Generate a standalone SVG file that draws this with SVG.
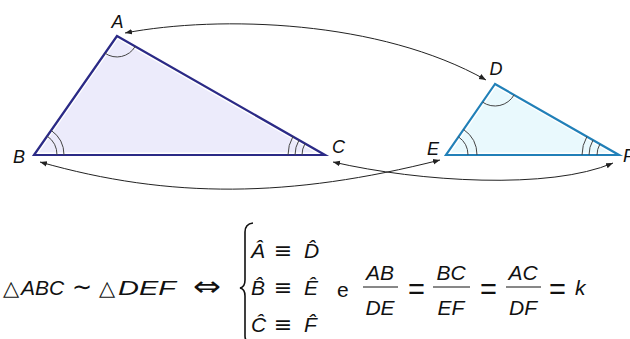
<svg xmlns="http://www.w3.org/2000/svg" width="630" height="339" viewBox="0 0 630 339">
<style>
text{font-family:"Liberation Sans","DejaVu Sans",sans-serif;fill:#111}
.lbl{font-size:18px;font-style:italic}
.i{font-size:21px;font-style:italic}
.u{font-size:21px}
.eq{font-size:29px}
.eqv{font-family:"DejaVu Sans",sans-serif;font-size:22px}
.sim{font-family:"DejaVu Sans",sans-serif;font-size:24px}
.c{text-anchor:middle}
.arc{fill:none;stroke:#444;stroke-width:1}
.conn{fill:none;stroke:#222;stroke-width:1;marker-start:url(#ah);marker-end:url(#ah)}
.bar{stroke:#111;stroke-width:1}
</style>
<defs>
<marker id="ah" viewBox="0 0 10 10" refX="10" refY="5" markerWidth="7" markerHeight="7" markerUnits="userSpaceOnUse" orient="auto-start-reverse">
<path d="M0,1 L10,5 L0,9 Z" fill="#222"/>
</marker>
</defs>
<g id="triangle-ABC">
<polygon points="117,36 34,155 325,155" fill="#ecebfb" stroke="#fff" stroke-width="5"/>
<polygon points="117,36 34,155 325,155" fill="none" stroke="#2b2a86" stroke-width="2.2"/>
<path class="arc" d="M105,53.2 A21,21 0 0 0 135.2,46.4"/>
<path class="arc" d="M47.2,136.1 A23,23 0 0 1 57,155"/>
<path class="arc" d="M51.2,130.4 A30,30 0 0 1 64,155"/>
<path class="arc" d="M302,155 A23,23 0 0 1 305,143.6"/>
<path class="arc" d="M295,155 A30,30 0 0 1 299,140.1"/>
<path class="arc" d="M288,155 A37,37 0 0 1 292.9,136.6"/>
<text class="lbl c" x="117.5" y="28">A</text>
<text class="lbl c" x="19" y="163">B</text>
<text class="lbl c" x="338.5" y="153">C</text>
</g>
<g id="triangle-DEF">
<polygon points="495,84 446,155 619,155" fill="#e9f9fd" stroke="#fff" stroke-width="5"/>
<polygon points="495,84 446,155 619,155" fill="none" stroke="#2180b8" stroke-width="2.2"/>
<path class="arc" d="M482.5,102.1 A22,22 0 0 0 514.1,94.9"/>
<path class="arc" d="M458.5,136.9 A22,22 0 0 1 468,155"/>
<path class="arc" d="M463.6,129.5 A31,31 0 0 1 477,155"/>
<path class="arc" d="M597,155 A22,22 0 0 1 599.9,144.1"/>
<path class="arc" d="M589,155 A30,30 0 0 1 593,140.1"/>
<path class="arc" d="M582,155 A37,37 0 0 1 586.9,136.6"/>
<text class="lbl c" x="496" y="75">D</text>
<text class="lbl c" x="433" y="155">E</text>
<text class="lbl" x="623" y="162">F</text>
</g>
<g id="connectors">
<path class="conn" d="M125,33 C220,15 380,20 486,80"/>
<path class="conn" d="M40,162 C170,199 290,198 440,160"/>
<path class="conn" d="M333,162 C420,182 550,190 613,163"/>
</g>
<g id="formula">
<text class="u" x="3" y="295">△</text>
<text class="i" x="21" y="295">ABC</text>
<text class="sim" x="72" y="295">∼</text>
<text class="u" x="99" y="295">△</text>
<text class="i" x="118" y="295" textLength="58" lengthAdjust="spacingAndGlyphs">DEF</text>
<text x="193" y="296" style="font-family:'DejaVu Sans',sans-serif;font-size:28px" textLength="28" lengthAdjust="spacingAndGlyphs">⇔</text>
<path d="M253,223 Q245,224 245,232 L245,280 Q245,287 240,288 Q245,289 245,296 L245,336 Q245,343 253,344" fill="none" stroke="#111" stroke-width="1.6"/>
<text class="i" x="251" y="258">A&#x302;</text>
<text class="eqv c" x="283" y="258">≡</text>
<text class="i" x="304" y="258">D&#x302;</text>
<text class="i" x="251" y="295">B&#x302;</text>
<text class="eqv c" x="283" y="295">≡</text>
<text class="i" x="304" y="295">E&#x302;</text>
<text class="i" x="251" y="332">C&#x302;</text>
<text class="eqv c" x="283" y="332">≡</text>
<text class="i" x="304" y="332">F&#x302;</text>
<text class="u" x="337" y="297">e</text>
<text class="i c" x="380" y="280">AB</text>
<line class="bar" x1="363" y1="287" x2="398" y2="287"/>
<text class="i c" x="380" y="315">DE</text>
<text class="eq c" x="416.5" y="299">=</text>
<text class="i c" x="451" y="280">BC</text>
<line class="bar" x1="433" y1="287" x2="470" y2="287"/>
<text class="i c" x="451" y="315">EF</text>
<text class="eq c" x="488.5" y="299">=</text>
<text class="i c" x="523" y="280">AC</text>
<line class="bar" x1="506" y1="287" x2="541" y2="287"/>
<text class="i c" x="523" y="315">DF</text>
<text class="eq c" x="557.5" y="299">=</text>
<text class="i" x="575" y="295">k</text>
</g>
</svg>
